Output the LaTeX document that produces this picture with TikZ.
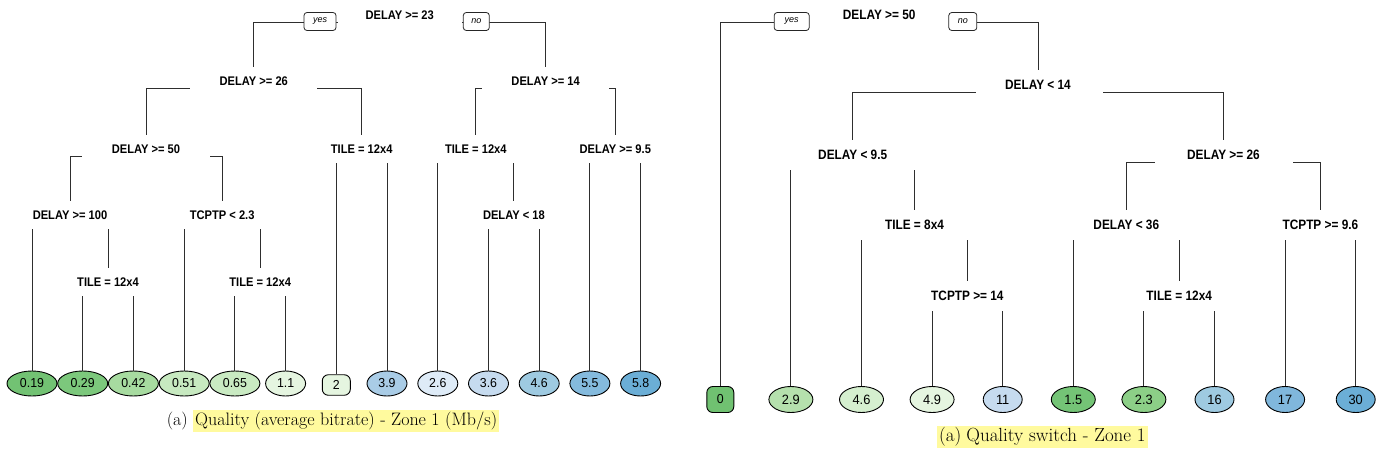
\documentclass[tikz,border=0pt]{standalone}
\usepackage{fontspec}
\usetikzlibrary{shapes.geometric,calc}
\newfontfamily\lblfontL[FakeStretch=0.89]{Liberation Sans}
\newfontfamily\lblfontR[FakeStretch=0.87]{Liberation Sans}
\newfontfamily\leaffont[FakeStretch=0.95]{Liberation Sans}
\newfontfamily\ynfont{Liberation Sans}
\definecolor{edgecol}{HTML}{2E2E2E}
\definecolor{hl}{HTML}{FFFA9E}
% left leaves
\definecolor{lA}{HTML}{72C273}
\definecolor{lB}{HTML}{7CC87C}
\definecolor{lC}{HTML}{A7DBA0}
\definecolor{lD}{HTML}{C7E9C0}
\definecolor{lE}{HTML}{C9EAC2}
\definecolor{lF}{HTML}{E5F5E0}
\definecolor{lG}{HTML}{E5F5E0}
\definecolor{lH}{HTML}{A9CCE6}
\definecolor{lI}{HTML}{DEEBF7}
\definecolor{lJ}{HTML}{C6DBEF}
\definecolor{lK}{HTML}{9ECAE1}
\definecolor{lL}{HTML}{84BADD}
\definecolor{lM}{HTML}{6BAED6}
% right leaves
\definecolor{rA}{HTML}{70C171}
\definecolor{rB}{HTML}{B5E0AD}
\definecolor{rC}{HTML}{D5EFCF}
\definecolor{rD}{HTML}{E5F5E0}
\definecolor{rE}{HTML}{C6DBEF}
\definecolor{rF}{HTML}{74C476}
\definecolor{rG}{HTML}{8CCF87}
\definecolor{rH}{HTML}{9ECAE1}
\definecolor{rI}{HTML}{80B7DC}
\definecolor{rJ}{HTML}{6BAED6}
\begin{document}
\begin{tikzpicture}[x=1pt,y=-1pt,
  splitL/.style={font=\lblfontL\bfseries\fontsize{12.5}{14}\selectfont, inner sep=0pt, minimum height=28pt, text=black},
  splitR/.style={font=\lblfontR\bfseries\fontsize{13.6}{15}\selectfont, inner sep=0pt, minimum height=30pt, text=black},
  leafL/.style={ellipse, draw=black, line width=0.9pt, inner sep=0pt, minimum height=25pt, font=\leaffont\fontsize{13}{15}\selectfont},
  leafR/.style={ellipse, draw=black, line width=0.9pt, inner sep=0pt, minimum height=26pt, font=\leaffont\fontsize{13.5}{15}\selectfont},
  boxleaf/.style={rectangle, rounded corners=6pt, draw=black, line width=0.9pt, inner sep=0pt, font=\leaffont\fontsize{13}{15}\selectfont},
  yn/.style={rectangle, rounded corners=3pt, draw=black!85, fill=white, line width=0.8pt, inner sep=0pt, minimum height=18pt, font=\ynfont\itshape\fontsize{9}{10}\selectfont},
  edge/.style={draw=edgecol, line width=1pt},
  capfont/.style={font=\fontsize{18}{21}\selectfont, inner sep=0pt, text=black},
  capfontR/.style={font=\fontsize{19}{22}\selectfont, inner sep=0pt, text=black}
]
\useasboundingbox (0,0) rectangle (1385,461);

% ================= LEFT TREE =================
\node[splitL] (a0) at (399.7,15) {DELAY >= 23};
\node[splitL] (a1) at (253.8,81) {DELAY >= 26};
\node[splitL] (a2) at (545.6,81) {DELAY >= 14};
\node[splitL] (a3) at (146,149) {DELAY >= 50};
\node[splitL] (a4) at (361.7,149) {TILE = 12x4};
\node[splitL] (a5) at (475.8,149) {TILE = 12x4};
\node[splitL] (a6) at (615.3,149) {DELAY >= 9.5};
\node[splitL] (a7) at (70,215) {DELAY >= 100};
\node[splitL] (a8) at (222.2,215) {TCPTP < 2.3};
\node[splitL] (a9) at (513.9,215) {DELAY < 18};
\node[splitL] (a10) at (108,282) {TILE = 12x4};
\node[splitL] (a11) at (260.2,282) {TILE = 12x4};

\node[leafL, minimum width=50pt, fill=lA] (b1) at (32,383.5) {0.19};
\node[leafL, minimum width=50pt, fill=lB] (b2) at (82.7,383.5) {0.29};
\node[leafL, minimum width=50pt, fill=lC] (b3) at (133.4,383.5) {0.42};
\node[leafL, minimum width=50pt, fill=lD] (b4) at (184.2,383.5) {0.51};
\node[leafL, minimum width=50pt, fill=lE] (b5) at (234.9,383.5) {0.65};
\node[leafL, minimum width=40pt, fill=lF] (b6) at (285.6,383.5) {1.1};
\node[boxleaf, minimum width=28pt, minimum height=20.5pt, fill=lG] (b7) at (336.3,385) {2};
\node[leafL, minimum width=40pt, fill=lH] (b8) at (387,383.5) {3.9};
\node[leafL, minimum width=40pt, fill=lI] (b9) at (437.8,383.5) {2.6};
\node[leafL, minimum width=40pt, fill=lJ] (b10) at (488.5,383.5) {3.6};
\node[leafL, minimum width=40pt, fill=lK] (b11) at (539.2,383.5) {4.6};
\node[leafL, minimum width=40pt, fill=lL] (b12) at (589.9,383.5) {5.5};
\node[leafL, minimum width=40pt, fill=lM] (b13) at (640.6,383.5) {5.8};

% root connectors with yes/no labels
\coordinate (ya0) at ($(a0)+(-62,7)$);
\coordinate (na0) at ($(a0)+(62,7)$);
\draw[edge] (a1.north) |- (ya0);
\draw[edge] (a2.north) |- (na0);
\node[yn, minimum width=32pt] (ya) at (320,21.5) {yes};
\node[yn, minimum width=26pt] (na) at (476.3,21.5) {no};

% bracket connectors
\draw[edge] (a3.north) |- ($(a1)+(-63.5,7.5)$);
\draw[edge] (a4.north) |- ($(a1)+(63.5,7.5)$);
\draw[edge] (a5.north) |- ($(a2)+(-63.5,7.5)$);
\draw[edge] (a6.north) |- ($(a2)+(63.5,7.5)$);
\draw[edge] (a7.north) |- ($(a3)+(-64,7)$);
\draw[edge] (a8.north) |- ($(a3)+(64,7)$);

% straight connectors
\draw[edge] (b7.north) -- (b7.north |- a4.south);
\draw[edge] (b8.north) -- (b8.north |- a4.south);
\draw[edge] (b9.north) -- (b9.north |- a5.south);
\draw[edge] (a9.north) -- (a9.north |- a5.south);
\draw[edge] (b12.north) -- (b12.north |- a6.south);
\draw[edge] (b13.north) -- (b13.north |- a6.south);
\draw[edge] (b1.north) -- (b1.north |- a7.south);
\draw[edge] (a10.north) -- (a10.north |- a7.south);
\draw[edge] (b4.north) -- (b4.north |- a8.south);
\draw[edge] (a11.north) -- (a11.north |- a8.south);
\draw[edge] (b10.north) -- (b10.north |- a9.south);
\draw[edge] (b11.north) -- (b11.north |- a9.south);
\draw[edge] (b2.north) -- (b2.north |- a10.south);
\draw[edge] (b3.north) -- (b3.north |- a10.south);
\draw[edge] (b5.north) -- (b5.north |- a11.south);
\draw[edge] (b6.north) -- (b6.north |- a11.south);

% ================= RIGHT TREE =================
\node[splitR] (c0) at (879.2,15) {DELAY >= 50};
\node[splitR] (c1) at (1038,85) {DELAY < 14};
\node[splitR] (c2) at (852.7,155) {DELAY < 9.5};
\node[splitR] (c3) at (1223.4,155) {DELAY >= 26};
\node[splitR] (c4) at (914.5,225) {TILE = 8x4};
\node[splitR] (c5) at (1126.3,225) {DELAY < 36};
\node[splitR] (c6) at (1320.4,225) {TCPTP >= 9.6};
\node[splitR] (c7) at (967.4,296) {TCPTP >= 14};
\node[splitR] (c8) at (1179.2,296) {TILE = 12x4};

\node[boxleaf, minimum width=27pt, minimum height=26pt, fill=rA] (d1) at (720.3,399.5) {0};
\node[leafR, minimum width=44pt, fill=rB] (d2) at (790.9,399.5) {2.9};
\node[leafR, minimum width=44pt, fill=rC] (d3) at (861.5,399.5) {4.6};
\node[leafR, minimum width=44pt, fill=rD] (d4) at (932.1,399.5) {4.9};
\node[leafR, minimum width=39pt, fill=rE] (d5) at (1002.7,399.5) {11};
\node[leafR, minimum width=44pt, fill=rF] (d6) at (1073.3,399.5) {1.5};
\node[leafR, minimum width=44pt, fill=rG] (d7) at (1143.9,399.5) {2.3};
\node[leafR, minimum width=39pt, fill=rH] (d8) at (1214.5,399.5) {16};
\node[leafR, minimum width=39pt, fill=rI] (d9) at (1285.1,399.5) {17};
\node[leafR, minimum width=39pt, fill=rJ] (d10) at (1355.7,399.5) {30};

% root connectors with yes/no labels
\coordinate (yc0) at ($(c0)+(-70,7.5)$);
\coordinate (nc0) at ($(c0)+(70,7.5)$);
\draw[edge] (d1.north) |- (yc0);
\draw[edge] (c1.north) |- (nc0);
\node[yn, minimum width=35pt] (yb) at (791.7,21.5) {yes};
\node[yn, minimum width=28pt] (nb) at (962.8,21.5) {no};

% bracket connectors
\draw[edge] (c2.north) |- ($(c1)+(-62.5,7.5)$);
\draw[edge] (c3.north) |- ($(c1)+(64.5,7.5)$);
\draw[edge] (c5.north) |- ($(c3)+(-68,7)$);
\draw[edge] (c6.north) |- ($(c3)+(70,7)$);

% straight connectors
\draw[edge] (d2.north) -- (d2.north |- c2.south);
\draw[edge] (c4.north) -- (c4.north |- c2.south);
\draw[edge] (d3.north) -- (d3.north |- c4.south);
\draw[edge] (c7.north) -- (c7.north |- c4.south);
\draw[edge] (d6.north) -- (d6.north |- c5.south);
\draw[edge] (c8.north) -- (c8.north |- c5.south);
\draw[edge] (d9.north) -- (d9.north |- c6.south);
\draw[edge] (d10.north) -- (d10.north |- c6.south);
\draw[edge] (d4.north) -- (d4.north |- c7.south);
\draw[edge] (d5.north) -- (d5.north |- c7.south);
\draw[edge] (d7.north) -- (d7.north |- c8.south);
\draw[edge] (d8.north) -- (d8.north |- c8.south);

% ================= CAPTIONS =================
\node[capfont, anchor=east] (capLa) at (188,421) {(a)};
\node[capfont, fill=hl, anchor=west, inner xsep=2pt, inner ysep=2pt] (capLb) at (193,421) {Quality (average bitrate) - Zone 1 (Mb/s)};
\node[capfontR, fill=hl, anchor=west, inner xsep=2pt, inner ysep=2pt] (capR) at (937,437) {(a)\hspace{5pt}Quality switch - Zone 1};
\end{tikzpicture}
\end{document}
